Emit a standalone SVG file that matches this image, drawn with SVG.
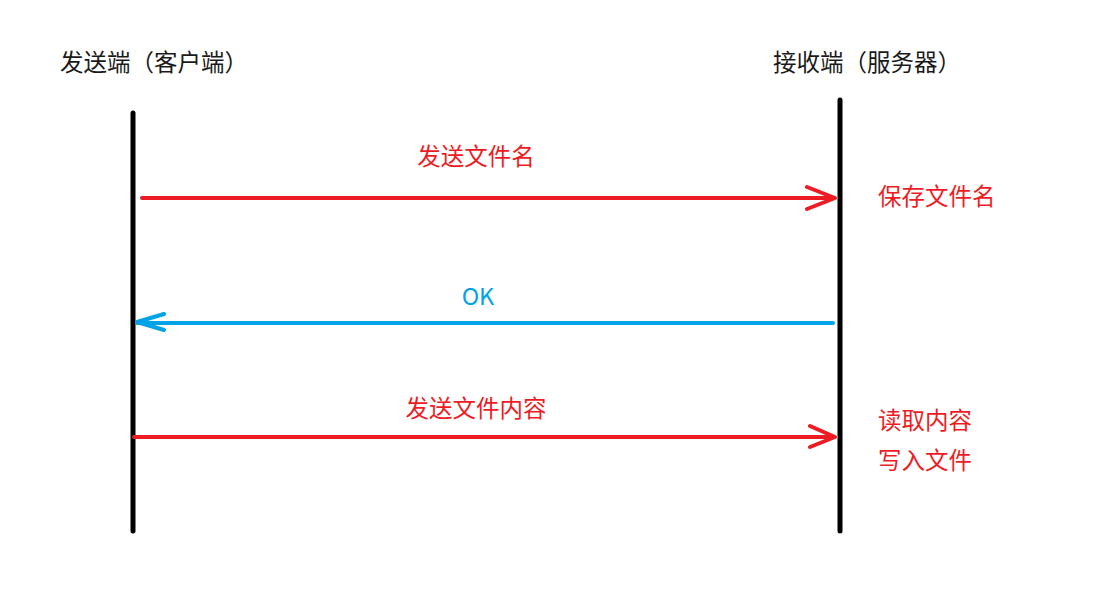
<svg xmlns="http://www.w3.org/2000/svg" width="1102" height="596" viewBox="0 0 1102 596">
<style>
text{font-family:"Noto Sans CJK SC","Liberation Sans",sans-serif;font-size:23.5px}
.hd{fill:#1a1a1a}
.r{fill:#ed1c24}
.b{fill:#00a2e8}
.life{stroke:#000;stroke-width:5;stroke-linecap:round}
.ra{stroke:#ed1c24;stroke-width:4;fill:none;stroke-linecap:round;stroke-linejoin:round}
.ba{stroke:#00a2e8;stroke-width:4;fill:none;stroke-linecap:round;stroke-linejoin:round}
</style>
<rect width="1102" height="596" fill="#fff"/>
<g id="client">
<line class="life" x1="133" y1="113" x2="133" y2="531"/>
<text class="hd" x="60" y="71">发送端（客户端）</text>
</g>
<g id="server">
<line class="life" x1="840" y1="100" x2="840" y2="531"/>
<text class="hd" x="773" y="71">接收端（服务器）</text>
<text class="r" x="878" y="205">保存文件名</text>
<text class="r" x="878" y="429">读取内容</text>
<text class="r" x="878" y="469">写入文件</text>
</g>
<g id="connectors">
<path class="ra" d="M142 198H834M807 187L835 198L807 209"/>
<text class="r" x="476" y="165" text-anchor="middle">发送文件名</text>
<path class="ba" d="M833 323H137M164 314L137 322L164 330"/>
<text class="b" x="478" y="305" text-anchor="middle">OK</text>
<path class="ra" d="M134 437H834M810 426L835 437L810 447"/>
<text class="r" x="476" y="417" text-anchor="middle">发送文件内容</text>
</g>
</svg>
